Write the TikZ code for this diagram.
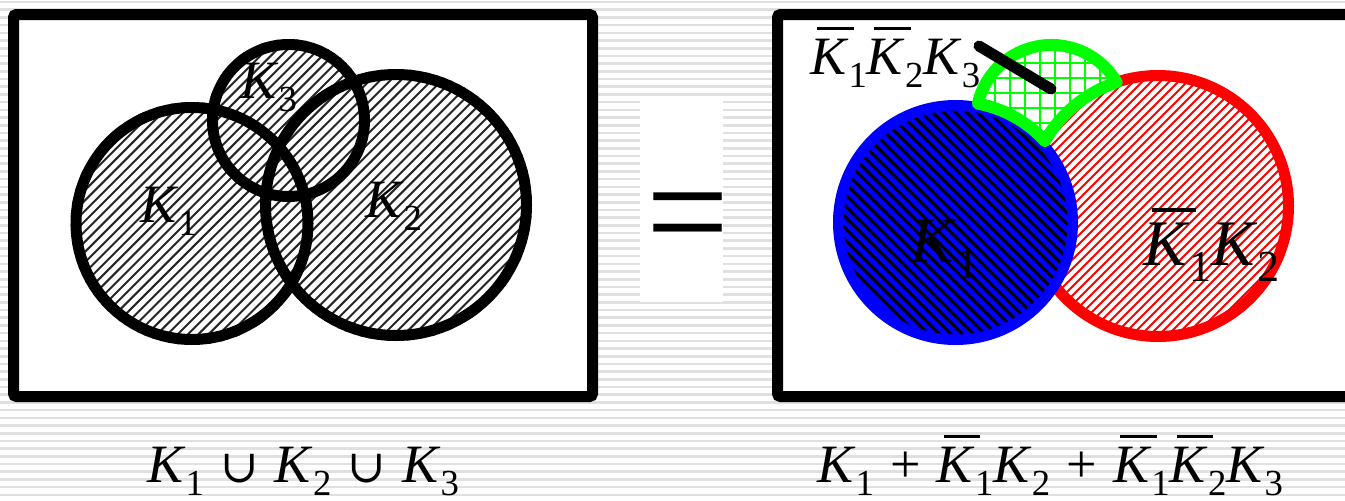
\documentclass[tikz,border=0pt]{standalone}
\usepackage{fontspec}
\setmainfont{Liberation Serif}
\newfontfamily\symfont{DejaVu Serif}
\usepackage{graphicx}
\newcommand\Sb[1]{\raisebox{-0.25em}{\scalebox{0.68}{#1}}}
\newcommand\Ki[1]{\textit{K}\Sb{#1}}
\newcommand\Kb[1]{\makebox[0pt][l]{\hspace{0.13em}\rule[0.82em]{0.68em}{0.05em}}\textit{K}\Sb{#1}}
\newcommand\cupsym{{\symfont\scalebox{0.85}{∪}}}
\newcommand\opsp{\hspace{0.3em}}
\definecolor{stripegray}{RGB}{224,224,224}
\definecolor{vgreen}{RGB}{0,255,0}
\definecolor{vblue}{RGB}{0,0,255}
\definecolor{vred}{RGB}{255,0,0}
\tikzset{
  stripe/.style={line width=2.6pt, draw=stripegray},
  frame/.style={line width=11pt, rounded corners=3pt, draw=black, fill=white},
  hatchk/.style={line width=2pt, draw=black!85},
  hatchb/.style={line width=3pt, draw=black},
  hatchr/.style={line width=1.8pt, draw=vred},
  gridg/.style={line width=2.4pt, draw=vgreen},
  ring/.style={line width=11pt, draw=black},
  lbl/.style={anchor=base west, inner sep=0pt, font=\fontsize{54}{60}\selectfont},
  biglbl/.style={anchor=base west, inner sep=0pt, font=\fontsize{65}{72}\selectfont},
}
\begin{document}
\begin{tikzpicture}[x=1pt,y=-1pt]
\useasboundingbox (0,0) rectangle (1345,501);
\fill[white] (0,0) rectangle (1345,501);
% background stripes
\foreach \k in {0,...,65} \draw[stripe] (0,{2+7.7*\k}) -- (1345,{2+7.7*\k});
% white panel behind "="
\fill[white] (640,101) rectangle (723,302);
% frames
\draw[frame] (13.5,14.5) rectangle (592.5,396.5);
\draw[frame] (777.5,14.5) rectangle (1400,396.5);
% ---------- left panel
\begin{scope}
  \clip (192,223.5) circle[radius=121.5] (396,205) circle[radius=136] (288.5,120.5) circle[radius=81.5];
  \foreach \c in {100,110.3,...,1000} \draw[hatchk] (\c,0) -- ({\c-500},500);
\end{scope}
\draw[ring] (192,223.5) circle[radius=116];
\draw[ring] (396,205) circle[radius=130.5];
\draw[ring] (288.5,120.5) circle[radius=76];
\node[lbl] (lk1) at (140,222) {\Ki{1}};
\node[lbl] (lk2) at (365,217) {\Ki{2}};
\node[lbl] (lk3) at (240,98) {\Ki{3}};
% ---------- equals sign
\node[inner sep=0pt, font=\fontsize{140}{140}\selectfont] (eq) at (687.5,229) {\scalebox{1.05}[1.12]{=}};
% ---------- right panel
% red circle K2
\begin{scope}
  \clip (1158,206) circle[radius=131];
  \foreach \c in {1080,1089,...,1650} \draw[hatchr] (\c,0) -- ({\c-500},500);
\end{scope}
\draw[line width=11pt, draw=vred] (1158,206) circle[radius=130.5];
% blue circle K1
\fill[vblue] (955.5,222.5) circle[radius=122.5];
\begin{scope}
  \clip (955.5,222.5) circle[radius=112];
  \foreach \c in {470,481.3,...,1000} \draw[hatchb] (\c,0) -- ({\c+500},500);
\end{scope}
% green region K3 minus K1, K2
\path[fill=white] (977.9,103.6) arc[start angle=192.9, end angle=329.6, radius=75.5]
   arc[start angle=251.5, end angle=209.9, radius=130.5]
   arc[start angle=317.6, end angle=280.7, radius=121] -- cycle;
\begin{scope}
  \clip (977.9,103.6) arc[start angle=192.9, end angle=329.6, radius=75.5]
   arc[start angle=251.5, end angle=209.9, radius=130.5]
   arc[start angle=317.6, end angle=280.7, radius=121] -- cycle;
  \foreach \x in {965,980,...,1140} \draw[gridg] (\x,30) -- (\x,160);
  \foreach \y in {33,48,...,160} \draw[gridg] (960,\y) -- (1140,\y);
\end{scope}
\draw[line width=12pt, draw=vgreen, line join=round] (977.9,103.6) arc[start angle=192.9, end angle=329.6, radius=75.5]
   arc[start angle=251.5, end angle=209.9, radius=130.5]
   arc[start angle=317.6, end angle=280.7, radius=121] -- cycle;
% labels right
\node[lbl] (rk123) at (810,74) {\Kb{1}\Kb{2}\Ki{3}};
\coordinate (ptA) at (979,46);
\coordinate (ptB) at (1051,89);
\draw[line width=11pt, line cap=round] (ptA) -- (ptB);
\node[biglbl] (rk1) at (910,262) {\Ki{1}};
\node[biglbl] (rk12) at (1143,265) {\Kb{1}\Ki{2}};
% ---------- bottom formulas
\node[lbl] (eqL) at (147,482) {\Ki{1}\opsp\cupsym\opsp\Ki{2}\opsp\cupsym\opsp\Ki{3}};
\node[lbl] (eqR) at (817,482) {\Ki{1}\opsp+\opsp\Kb{1}\Ki{2}\opsp+\opsp\Kb{1}\Kb{2}\Ki{3}};
\end{tikzpicture}
\end{document}
